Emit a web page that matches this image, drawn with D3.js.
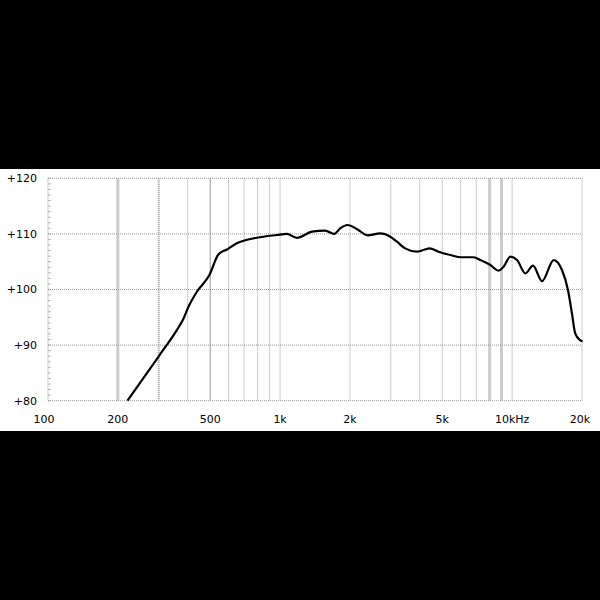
<!DOCTYPE html>
<html><head><meta charset="utf-8">
<script src="https://cdn.jsdelivr.net/npm/d3@7"></script>
<style>html,body{margin:0;padding:0;background:#000;}svg{display:block;}</style>
</head><body>
<script>
const freqs = [220,299,359,381,403,438,496,542,590,651,794,969,1070,1181,1371,1565,1712,1816,1953,2157,2383,2702,2986,3189,3457,3891,4411,4818,5412,6069,6823,7295,8054,8747,9190,9823,10500,11400,12300,13450,15100,16400,17400,18100,18700,19600,20100];
const spl   = [80,87.9,92.7,94.5,96.9,99.6,102.6,106.3,107.2,108.3,109.3,109.8,110.0,109.3,110.4,110.6,110.0,111.0,111.6,110.8,109.75,110.1,109.5,108.6,107.4,106.8,107.4,106.8,106.2,105.8,105.8,105.3,104.4,103.4,104.1,105.9,105.3,102.9,104.3,101.5,105.3,103.5,99.9,95.7,92.1,90.9,90.7];
const yTicks = [80,90,100,110,120];
const yTickLabels = ["+80","+90","+100","+110","+120"];
const xGrid = [200,300,400,500,600,700,800,900,1000,2000,3000,4000,5000,6000,7000,8000,9000,10000,20000];
const xLabelVals = [100,200,500,1000,2000,5000,10000,20000];
const xLabels = ["100","200","500","1k","2k","5k","10kHz","20k"];
const heavyGrid = [200,8000,9000];
const solidGrid = [500];

const W=600,H=600;
const svg=d3.select("body").append("svg").attr("width",W).attr("height",H);
svg.append("rect").attr("width",W).attr("height",H).attr("fill","#000");
svg.append("rect").attr("x",0).attr("y",169).attr("width",W).attr("height",262).attr("fill","#fff");

const x=d3.scaleLog().domain([100,20000]).range([48,582]);
const y=d3.scaleLinear().domain([80,120]).range([400.7,178.3]);

const g=svg.append("g");
g.selectAll("line.minor").data(d3.range(80,121,1)).enter().append("line")
 .attr("x1",x(100)).attr("x2",x(100)+3).attr("y1",d=>y(d)).attr("y2",d=>y(d))
 .attr("stroke","#bbb").attr("stroke-width",1);
g.selectAll("line.vg").data(xGrid).enter().append("line")
 .attr("x1",d=>x(d)).attr("x2",d=>x(d)).attr("y1",y(120)).attr("y2",y(80))
 .attr("stroke",d=>heavyGrid.includes(d)?"#ccc":"#999")
 .attr("stroke-width",d=>heavyGrid.includes(d)?3:(d===300?2:1))
 .attr("stroke-dasharray",d=>(heavyGrid.includes(d)||solidGrid.includes(d))?null:"1,1");
g.selectAll("line.hg").data(yTicks).enter().append("line")
 .attr("x1",x(100)).attr("x2",x(20000)).attr("y1",d=>y(d)).attr("y2",d=>y(d))
 .attr("stroke","#999").attr("stroke-width",1).attr("stroke-dasharray","1,1");
g.append("line").attr("x1",x(100)).attr("x2",x(100)).attr("y1",y(120)).attr("y2",y(80))
 .attr("stroke","#999").attr("stroke-dasharray","1,1");

svg.selectAll("text.yl").data(yTicks).enter().append("text")
 .attr("x",37).attr("y",d=>y(d)).attr("dy","0.35em").attr("text-anchor","end")
 .attr("font-family","DejaVu Sans").attr("font-size",11).attr("fill","#000")
 .text((d,i)=>yTickLabels[i]);
svg.selectAll("text.xl").data(xLabelVals).enter().append("text")
 .attr("x",(d,i)=>i===0?x(d)-4:(i===xLabelVals.length-1?x(d)-2:x(d))).attr("y",419.5).attr("dy","0.35em").attr("text-anchor","middle")
 .attr("font-family","DejaVu Sans").attr("font-size",11).attr("fill","#000")
 .text((d,i)=>xLabels[i]);

const line=d3.line().x((d,i)=>x(freqs[i])).y(d=>y(d)).curve(d3.curveMonotoneX);
svg.append("path").datum(spl).attr("d",line).attr("fill","none").attr("stroke","#000").attr("stroke-width",2.2).attr("stroke-linejoin","round");
</script>
</body></html>
